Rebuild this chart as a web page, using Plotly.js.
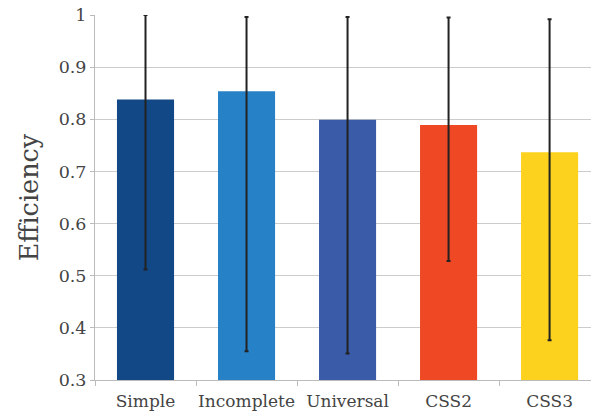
<!DOCTYPE html>
<html>
<head>
<meta charset="utf-8">
<script src="https://cdn.plot.ly/plotly-3.0.1.min.js"></script>
<style>html,body{margin:0;padding:0;background:#fff;}</style>
</head>
<body>
<div id="chart" style="width:591px;height:412px;"></div>
<script>
const categories = ["Simple", "Incomplete", "Universal", "CSS2", "CSS3"];
const efficiency = [0.838, 0.854, 0.799, 0.789, 0.737];
const errorUpper = [1.0, 0.996, 0.996, 0.995, 0.992];
const errorLower = [0.512, 0.355, 0.351, 0.528, 0.376];
const barColors = ["#134886", "#2681c6", "#3a5ca8", "#ee4824", "#fcd21e"];
const yTicks = [0.3, 0.4, 0.5, 0.6, 0.7, 0.8, 0.9, 1];
const yTickLabels = ["0.3", "0.4", "0.5", "0.6", "0.7", "0.8", "0.9", "1"];

const plus = efficiency.map((v, i) => errorUpper[i] - v);
const minus = efficiency.map((v, i) => v - errorLower[i]);

const serif = "'DejaVu Serif', serif";

const trace = {
  type: "bar",
  x: categories,
  y: efficiency,
  width: 0.565,
  marker: { color: barColors, line: { width: 0 } },
  cliponaxis: false,
  error_y: {
    type: "data",
    symmetric: false,
    array: plus,
    arrayminus: minus,
    color: "#222222",
    thickness: 2,
    width: 2
  },
  hoverinfo: "none"
};

const layout = {
  width: 591,
  height: 412,
  margin: { l: 95, r: 0, t: 15, b: 32, pad: 0 },
  paper_bgcolor: "#ffffff",
  plot_bgcolor: "#ffffff",
  showlegend: false,
  font: { family: serif, size: 17.5, color: "#444444" },
  xaxis: {
    type: "category",
    range: [-0.5, 4.41],
    tickson: "boundaries",
    ticks: "outside",
    ticklen: 5,
    tickcolor: "#bbbbbb",
    tickangle: 0,
    ticklabelstandoff: 6,
    showline: true,
    linecolor: "#bbbbbb",
    linewidth: 1,
    showgrid: false,
    tickfont: { family: serif, size: 17, color: "#444444" },
    fixedrange: true
  },
  yaxis: {
    range: [0.3, 1.0],
    tickvals: yTicks,
    ticktext: yTickLabels,
    ticks: "outside",
    ticklen: 4,
    tickcolor: "#bbbbbb",
    showline: true,
    linecolor: "#bbbbbb",
    linewidth: 1,
    showgrid: true,
    gridcolor: "#cccccc",
    gridwidth: 1,
    zeroline: false,
    tickfont: { family: serif, size: 17.5, color: "#444444" },
    title: { text: "Efficiency", font: { family: serif, size: 25.5, color: "#444444" }, standoff: 12 },
    fixedrange: true
  }
};

Plotly.newPlot("chart", [trace], layout, { displayModeBar: false, staticPlot: true });
</script>
</body>
</html>
